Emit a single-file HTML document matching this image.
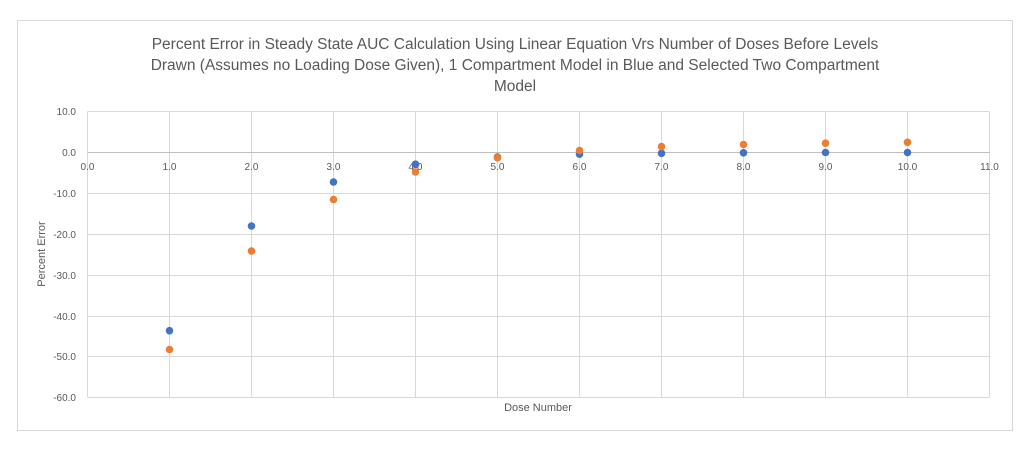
<!DOCTYPE html>
<html><head><meta charset="utf-8"><style>
body{margin:0;background:#fff;}
svg{display:block;font-family:"Liberation Sans",sans-serif;}
</style></head><body>
<svg width="1036" height="455" viewBox="0 0 1036 455" xmlns="http://www.w3.org/2000/svg">
<rect x="17.5" y="20.5" width="995" height="410" fill="#fff" stroke="#d9d9d9"/>
<g fill="#595959" font-size="15.5" text-anchor="middle">
<text x="515" y="49">Percent Error in Steady State AUC Calculation Using Linear Equation Vrs Number of Doses Before Levels</text>
<text x="515" y="70">Drawn  (Assumes no Loading Dose Given), 1 Compartment Model in Blue and Selected Two Compartment</text>
<text x="515" y="91">Model</text>
</g>
<g stroke="#d9d9d9" stroke-width="1">
<line x1="87.5" y1="111.5" x2="989.5" y2="111.5"/>
<line x1="87.5" y1="193.5" x2="989.5" y2="193.5"/>
<line x1="87.5" y1="234.5" x2="989.5" y2="234.5"/>
<line x1="87.5" y1="275.5" x2="989.5" y2="275.5"/>
<line x1="87.5" y1="316.5" x2="989.5" y2="316.5"/>
<line x1="87.5" y1="356.5" x2="989.5" y2="356.5"/>
<line x1="87.5" y1="397.5" x2="989.5" y2="397.5"/>
<line x1="169.5" y1="111.5" x2="169.5" y2="397.5"/>
<line x1="251.5" y1="111.5" x2="251.5" y2="397.5"/>
<line x1="333.5" y1="111.5" x2="333.5" y2="397.5"/>
<line x1="415.5" y1="111.5" x2="415.5" y2="397.5"/>
<line x1="497.5" y1="111.5" x2="497.5" y2="397.5"/>
<line x1="579.5" y1="111.5" x2="579.5" y2="397.5"/>
<line x1="661.5" y1="111.5" x2="661.5" y2="397.5"/>
<line x1="743.5" y1="111.5" x2="743.5" y2="397.5"/>
<line x1="825.5" y1="111.5" x2="825.5" y2="397.5"/>
<line x1="907.5" y1="111.5" x2="907.5" y2="397.5"/>
<line x1="989.5" y1="111.5" x2="989.5" y2="397.5"/>
<line x1="87.5" y1="111.5" x2="87.5" y2="397.5"/>
</g>
<line x1="87.5" y1="152.5" x2="989.5" y2="152.5" stroke="#bfbfbf"/>
<g fill="#595959" font-size="10" text-anchor="end">
<text x="76" y="115">10.0</text><text x="76" y="156">0.0</text><text x="76" y="197">-10.0</text>
<text x="76" y="238">-20.0</text><text x="76" y="279">-30.0</text><text x="76" y="320">-40.0</text>
<text x="76" y="360">-50.0</text><text x="76" y="401">-60.0</text>
</g>
<g fill="#595959" font-size="10" text-anchor="middle">
<text x="87.5" y="170">0.0</text><text x="169.5" y="170">1.0</text><text x="251.5" y="170">2.0</text>
<text x="333.5" y="170">3.0</text><text x="415.5" y="170">4.0</text><text x="497.5" y="170">5.0</text>
<text x="579.5" y="170">6.0</text><text x="661.5" y="170">7.0</text><text x="743.5" y="170">8.0</text>
<text x="825.5" y="170">9.0</text><text x="907.5" y="170">10.0</text><text x="989.5" y="170">11.0</text>
</g>
<text x="538" y="411" fill="#595959" font-size="11" text-anchor="middle">Dose Number</text>
<text transform="translate(45,254) rotate(-90)" fill="#595959" font-size="11" text-anchor="middle">Percent Error</text>
<g fill="#4472c4">
<circle cx="169.5" cy="330.7" r="3.8"/><circle cx="251.5" cy="226" r="3.8"/><circle cx="333.5" cy="182" r="3.8"/>
<circle cx="415.5" cy="164.3" r="3.8"/><circle cx="497.5" cy="157" r="3.8"/><circle cx="579.5" cy="154.2" r="3.8"/>
<circle cx="661.5" cy="153.3" r="3.8"/><circle cx="743.5" cy="152.8" r="3.8"/><circle cx="825.5" cy="152.5" r="3.8"/>
<circle cx="907.5" cy="152.5" r="3.8"/>
</g>
<g fill="#ed7d31">
<circle cx="169.5" cy="349.5" r="3.8"/><circle cx="251.5" cy="251" r="3.8"/><circle cx="333.5" cy="199.5" r="3.8"/>
<circle cx="415.5" cy="172" r="3.8"/><circle cx="497.5" cy="157.8" r="3.8"/><circle cx="579.5" cy="150.5" r="3.8"/>
<circle cx="661.5" cy="146.6" r="3.8"/><circle cx="743.5" cy="144.5" r="3.8"/><circle cx="825.5" cy="143.2" r="3.8"/>
<circle cx="907.5" cy="142.3" r="3.8"/>
</g>
<circle cx="415.5" cy="164.3" r="3.8" fill="#4472c4"/>
</svg>
</body></html>
